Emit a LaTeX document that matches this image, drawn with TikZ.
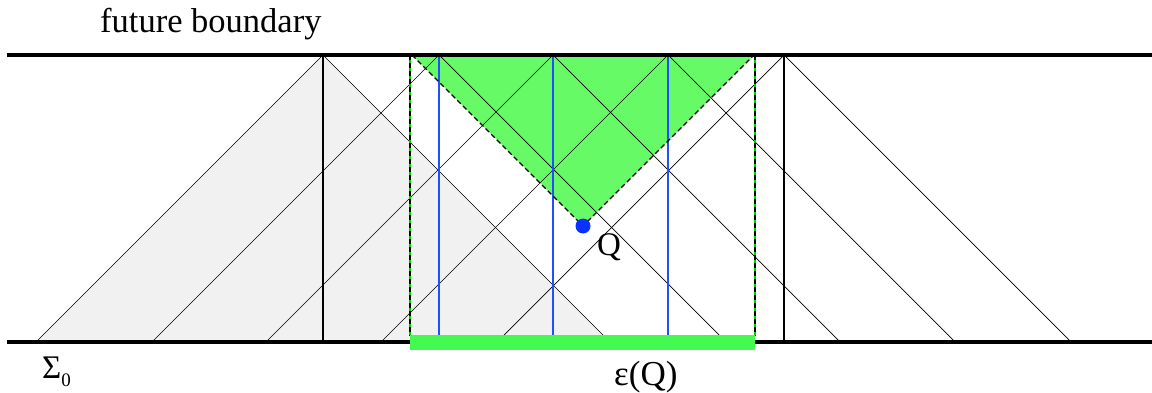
\documentclass[tikz,border=0pt]{standalone}
\usepackage{fontspec}
\setmainfont{Liberation Serif}
\definecolor{greyfill}{RGB}{241,241,241}
\definecolor{conegreen}{RGB}{102,250,102}
\definecolor{bargreen}{RGB}{68,250,80}
\definecolor{lineblue}{RGB}{30,80,255}
\definecolor{dotblue}{RGB}{10,50,255}
\tikzset{
  ray/.style={line width=0.7pt, black},
  worldline/.style={line width=1.2pt, black},
  blueline/.style={line width=1.3pt, lineblue},
  boundary/.style={line width=3.8pt, black},
  coneedge/.style={line width=1.2pt, black, dash pattern=on 5pt off 3pt},
  lbl/.style={inner sep=0pt, font=\fontsize{33}{36}\selectfont},
}
\begin{document}
\begin{tikzpicture}[x=1pt,y=-1pt]
\useasboundingbox (0,0) rectangle (1152,393);
% grey past region
\fill[greyfill] (323,55) -- (36,342) -- (610,342) -- cycle;
% green future of Q
\coordinate (Q) at (583,226);
\coordinate (GL) at (412,55);
\coordinate (GR) at (754,55);
\fill[conegreen] (GL) -- (Q) -- (GR) -- cycle;
% light rays from points on the future boundary
\foreach \t in {323,439,553,668,784}{
  \draw[ray] (\t,55) -- ({\t-287},342);
  \draw[ray] (\t,55) -- ({\t+287},342);
}
% world lines
\draw[worldline] (323,55) -- (323,342);
\draw[worldline] (784,55) -- (784,342);
\foreach \t in {439,553,668}{
  \draw[blueline] (\t,55) -- (\t,336);
}
% dashed edges
\draw[coneedge] (GL) -- (Q) -- (GR);
\coordinate (VLt) at (410,55); \coordinate (VLb) at (410,336);
\coordinate (VRt) at (755,55); \coordinate (VRb) at (755,336);
\draw[line width=1.2pt, green!80!black] (VLt) -- (VLb) (VRt) -- (VRb);
\draw[coneedge, line width=1.3pt] (VLt) -- (VLb) (VRt) -- (VRb);
% boundaries
\coordinate (TL) at (7,55); \coordinate (TR) at (1152,55);
\coordinate (BL) at (7,342); \coordinate (BR) at (1152,342);
\draw[boundary] (TL) -- (TR);
\draw[boundary] (BL) -- (BR);
% epsilon(Q) bar
\fill[bargreen] (410,335) rectangle (755,350);
% point Q
\fill[dotblue] (Q) circle (7.5);
% labels
\node[lbl, anchor=base west, font=\fontsize{34.5}{38}\selectfont] (fb) at (100,33) {future boundary};
\node[lbl, anchor=base west] (qlbl) at (597,255) {Q};
\node[lbl, anchor=base west, font=\fontsize{35}{38}\selectfont] (eps) at (614,385) {ε(Q)};
\node[lbl, anchor=base west] (sig) at (42,378) {Σ\raisebox{-8pt}{\fontsize{19}{20}\selectfont 0}};
\end{tikzpicture}
\end{document}
